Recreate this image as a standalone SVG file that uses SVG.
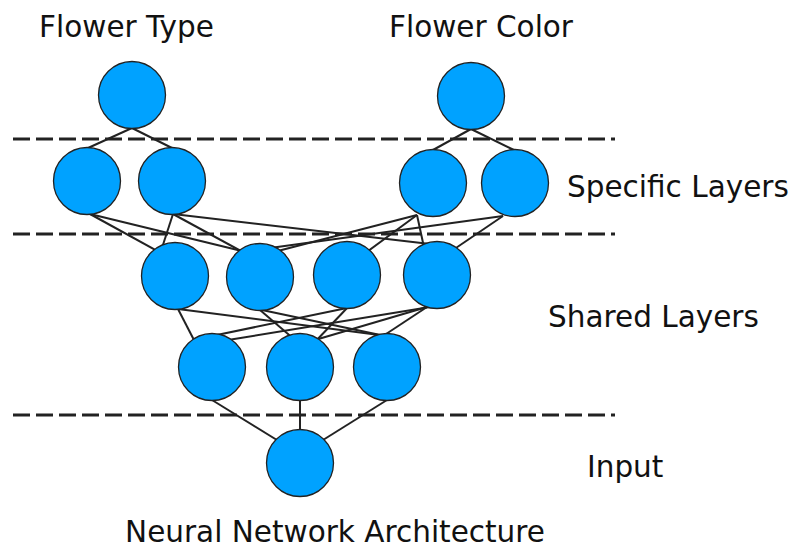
<svg xmlns="http://www.w3.org/2000/svg" width="790" height="550" viewBox="0 0 790 550">
<style>
.t{font-family:"DejaVu Sans",sans-serif;font-size:29.5px;fill:#111}
.n{fill:#00a2ff;stroke:#222;stroke-width:1.3}
.e{stroke:#222;stroke-width:2;fill:none}
.d{stroke:#222;stroke-width:3;stroke-dasharray:17 6;fill:none}
</style>
<rect width="790" height="550" fill="#fff"/>
<g id="connectors">
<line class="e" x1="132" y1="128" x2="88" y2="148"/>
<line class="e" x1="132" y1="128" x2="172" y2="148"/>
<line class="e" x1="471" y1="129" x2="433" y2="150"/>
<line class="e" x1="471" y1="129" x2="514" y2="150"/>
<line class="e" x1="90" y1="214" x2="170" y2="258"/>
<line class="e" x1="90" y1="214" x2="250" y2="253"/>
<line class="e" x1="173" y1="214" x2="160" y2="254"/>
<line class="e" x1="173" y1="214" x2="250" y2="256"/>
<line class="e" x1="173" y1="214" x2="430" y2="244"/>
<line class="e" x1="417" y1="215" x2="270" y2="253"/>
<line class="e" x1="417" y1="215" x2="360" y2="257"/>
<line class="e" x1="417" y1="215" x2="425" y2="252"/>
<line class="e" x1="503" y1="216" x2="270" y2="248"/>
<line class="e" x1="503" y1="216" x2="450" y2="252"/>
<line class="e" x1="178" y1="309" x2="195" y2="342"/>
<line class="e" x1="178" y1="309" x2="387" y2="336"/>
<line class="e" x1="260" y1="310" x2="295" y2="340"/>
<line class="e" x1="262" y1="310" x2="385" y2="336"/>
<line class="e" x1="347" y1="308" x2="212" y2="336"/>
<line class="e" x1="430" y1="307" x2="228" y2="340"/>
<line class="e" x1="347" y1="308" x2="315" y2="342"/>
<line class="e" x1="427" y1="307" x2="315" y2="340"/>
<line class="e" x1="427" y1="307" x2="380" y2="338"/>
<line class="e" x1="212" y1="400" x2="285" y2="445"/>
<line class="e" x1="300" y1="400" x2="300" y2="440"/>
<line class="e" x1="387" y1="400" x2="315" y2="445"/>
</g>
<g id="dividers">
<line class="d" x1="13" y1="139" x2="615" y2="139"/>
<line class="d" x1="13" y1="234" x2="615" y2="234"/>
<line class="d" x1="13" y1="415" x2="615" y2="415"/>
</g>
<g id="out-type"><circle class="n" cx="132" cy="95" r="33.5"/></g>
<g id="out-color"><circle class="n" cx="471" cy="96" r="33.5"/></g>
<g id="spec-1"><circle class="n" cx="87" cy="181" r="33.5"/></g>
<g id="spec-2"><circle class="n" cx="172" cy="181" r="33.5"/></g>
<g id="spec-3"><circle class="n" cx="433" cy="183" r="33.5"/></g>
<g id="spec-4"><circle class="n" cx="515" cy="183" r="33.5"/></g>
<g id="shared1-1"><circle class="n" cx="175" cy="276" r="33.5"/></g>
<g id="shared1-2"><circle class="n" cx="260" cy="277" r="33.5"/></g>
<g id="shared1-3"><circle class="n" cx="347" cy="275" r="33.5"/></g>
<g id="shared1-4"><circle class="n" cx="437" cy="275" r="33.5"/></g>
<g id="shared2-1"><circle class="n" cx="212" cy="367" r="33.5"/></g>
<g id="shared2-2"><circle class="n" cx="300" cy="367" r="33.5"/></g>
<g id="shared2-3"><circle class="n" cx="387" cy="367" r="33.5"/></g>
<g id="input"><circle class="n" cx="300" cy="463" r="33.5"/></g>
<g id="labels">
<text class="t" x="126.5" y="37" text-anchor="middle">Flower Type</text>
<text class="t" x="481" y="37" text-anchor="middle">Flower Color</text>
<text class="t" x="567" y="197">Specific Layers</text>
<text class="t" x="548" y="327">Shared Layers</text>
<text class="t" x="587" y="477">Input</text>
<text class="t" x="335" y="542" text-anchor="middle">Neural Network Architecture</text>
</g>
</svg>
